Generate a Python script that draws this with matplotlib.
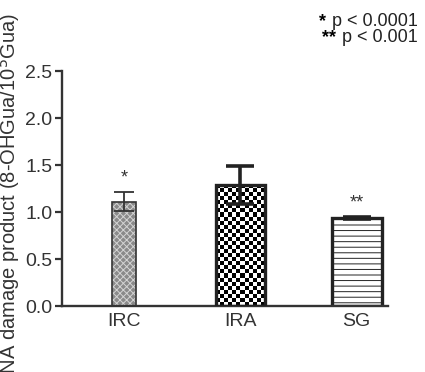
import numpy as np
import matplotlib
matplotlib.use("Agg")
import matplotlib.pyplot as plt

plt.rcParams['font.family'] = ['Liberation Sans', 'DejaVu Sans']
plt.rcParams['hatch.linewidth'] = 0.7

groups = ['IRC', 'IRA', 'SG']
means = [1.11, 1.29, 0.94]
errs = [0.10, 0.20, 0.01]
widths = [0.21, 0.42, 0.43]
marks = ['*', '', '**']
yticks = [0.0, 0.5, 1.0, 1.5, 2.0, 2.5]

fig = plt.figure(figsize=(4.25, 3.72), dpi=100)
ax = fig.add_axes([0.146, 0.177, 0.767, 0.632])

x = np.arange(len(groups))

# IRC: grey fill with fine light stipple, then outline
ax.bar(x[0], means[0], widths[0], color='#8a8a8a', edgecolor='#d4d4d4',
       linewidth=0, hatch='xxxxx', zorder=2)
ax.bar(x[0], means[0], widths[0], color='none', edgecolor='#333333',
       linewidth=1.2, zorder=2.2)
# IRA: checkerboard, drawn as an image clipped to the bar
b1 = ax.bar(x[1], means[1], widths[1], color='white', edgecolor='#222222',
            linewidth=2.4, zorder=3)
# SG: horizontal lines
ax.bar(x[2], means[2], widths[2], color='white', edgecolor='#222222',
       linewidth=2.4, hatch='---', zorder=2)

p = b1[0]
nx, ny = 12, 30
checker = (np.add.outer(np.arange(ny), np.arange(nx)) % 2).astype(float)
im = ax.imshow(checker, cmap='gray', interpolation='nearest', aspect='auto',
               extent=[p.get_x(), p.get_x() + p.get_width(), 0, p.get_height()],
               zorder=2.5)
im.set_clip_path(p)
p.set_facecolor('none')

ax.errorbar(x[0], means[0], yerr=errs[0], fmt='none', ecolor='#333333',
            elinewidth=1.3, capsize=7, capthick=1.3, zorder=4)
ax.errorbar(x[1], means[1], yerr=errs[1], fmt='none', ecolor='#222222',
            elinewidth=2.6, capsize=10, capthick=2.6, zorder=4)
ax.errorbar(x[2], means[2], yerr=errs[2], fmt='none', ecolor='#222222',
            elinewidth=2.6, capsize=10, capthick=2.6, zorder=4)

for xi, m, e, s in zip(x, means, errs, marks):
    if s:
        ax.text(xi, m + e + 0.06, s, ha='center', va='bottom', fontsize=13,
                color='#333333')

ax.set_xlim(-0.534, 2.27)
ax.set_ylim(0, 2.5)
ax.set_yticks(yticks)
ax.set_yticklabels(['%.1f' % t for t in yticks], fontsize=14, color='#333333')
ax.set_xticks(x)
ax.set_xticklabels(groups, fontsize=14, color='#333333')
ax.tick_params(axis='x', length=0, pad=5)
ax.tick_params(axis='y', length=5, width=1.6, color='#333333', pad=2)
for s in ['top', 'right']:
    ax.spines[s].set_visible(False)
for s in ['left', 'bottom']:
    ax.spines[s].set_linewidth(1.7)
    ax.spines[s].set_color('#333333')

fig.text(0.022, 0.965, 'DNA damage product (8-OHGua/10$^5$Gua)', rotation=90,
         ha='center', va='top', fontsize=14.5, color='#333333')

fig.text(0.768, 0.943, '*', fontweight='bold', fontsize=13, ha='right', va='center')
fig.text(0.984, 0.943, 'p < 0.0001', fontsize=13, ha='right', va='center', color='#222222')
fig.text(0.791, 0.898, '**', fontweight='bold', fontsize=13, ha='right', va='center')
fig.text(0.984, 0.898, 'p < 0.001', fontsize=13, ha='right', va='center', color='#222222')

fig.savefig('out.png', dpi=100)
